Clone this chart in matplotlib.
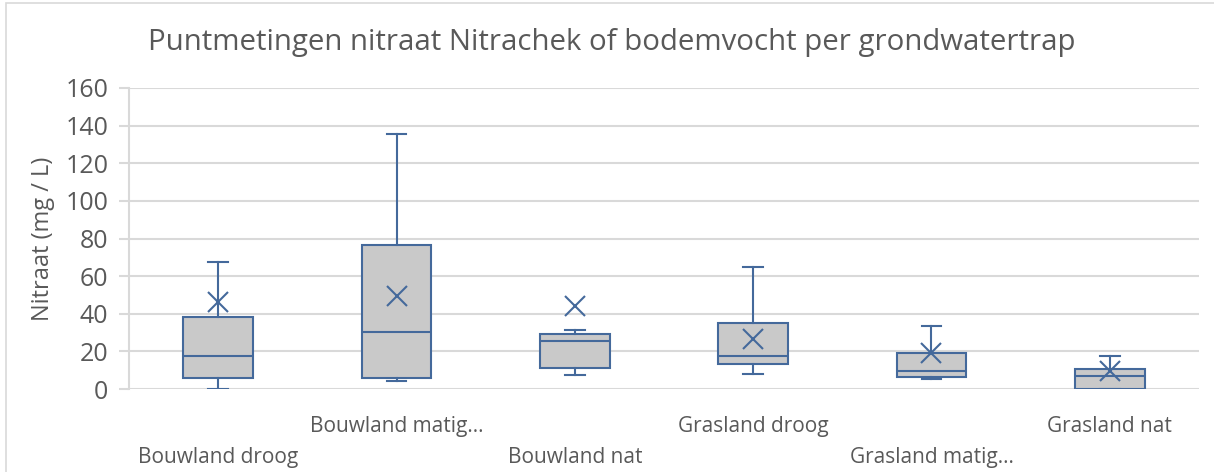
import matplotlib
matplotlib.use("Agg")
import matplotlib.pyplot as plt
from matplotlib.patches import Rectangle

categories = ["Bouwland droog", "Bouwland matig...", "Bouwland nat",
              "Grasland droog", "Grasland matig...", "Grasland nat"]
whislo = [0.0, 4.4, 7.2, 8.1, 5.5, 0.0]
q1 = [5.8, 5.8, 11.2, 13.3, 6.4, 0.0]
med = [17.7, 30.3, 25.3, 17.5, 9.4, 7.1]
q3 = [38.1, 76.7, 29.4, 35.1, 18.9, 10.4]
whishi = [67.7, 135.3, 31.5, 64.8, 33.3, 17.5]
means = [46.0, 49.2, 43.9, 26.6, 19.1, 9.4]

edge = "#44699B"
fill = "#C9C9C9"
txt = "#595959"

plt.rcParams["font.family"] = ["Open Sans", "DejaVu Sans"]

fig = plt.figure(figsize=(12.14, 4.72), dpi=100)
ax = fig.add_axes([0.1063, 0.1758, 0.8813, 0.6378])

stats = []
for i in range(len(categories)):
    stats.append(dict(whislo=whislo[i], q1=q1[i], med=med[i], q3=q3[i],
                      whishi=whishi[i], mean=means[i], label=categories[i]))

pos = list(range(len(categories)))
ax.bxp(stats, positions=pos, widths=0.39, patch_artist=True, showmeans=True,
       showfliers=False,
       boxprops=dict(facecolor=fill, edgecolor=edge, linewidth=1.5),
       medianprops=dict(color=edge, linewidth=1.5),
       whiskerprops=dict(color=edge, linewidth=1.5),
       capprops=dict(color=edge, linewidth=1.5),
       capwidths=0.11,
       meanprops=dict(marker="x", markeredgecolor=edge, markersize=14,
                      markeredgewidth=1.5))

ax.set_xlim(-0.5, len(categories) - 0.5)
ax.set_ylim(0, 160)
ax.set_yticks(range(0, 161, 20))
ax.yaxis.grid(True, color="#D9D9D9", linewidth=1.5)
ax.set_axisbelow(True)
for s in ["top", "right", "bottom"]:
    ax.spines[s].set_visible(False)
ax.spines["left"].set_color("#D9D9D9")
ax.spines["left"].set_linewidth(1.5)
ax.tick_params(axis="y", length=7, color="#D9D9D9", width=1.5,
               labelsize=18, labelcolor=txt, pad=8)
ax.tick_params(axis="x", length=0, labelsize=15, labelcolor=txt)

ax.set_xticks(pos)
ax.set_xticklabels(categories)
for i, t in enumerate(ax.get_xticklabels()):
    t.set_y(-0.075 if i % 2 == 1 else -0.175)

ax.set_ylabel("Nitraat (mg / L)", fontsize=17, color=txt, labelpad=7)
fig.text(0.504, 0.909, "Puntmetingen nitraat Nitrachek of bodemvocht per grondwatertrap",
         ha="center", va="center", fontsize=21.2, color=txt)

fig.patches.append(Rectangle((6 / 1214, -0.1), 1.2, 1.1 - 3 / 472,
                             transform=fig.transFigure, fill=False,
                             edgecolor="#D9D9D9", linewidth=1.2))

fig.savefig("out.png", dpi=100)
